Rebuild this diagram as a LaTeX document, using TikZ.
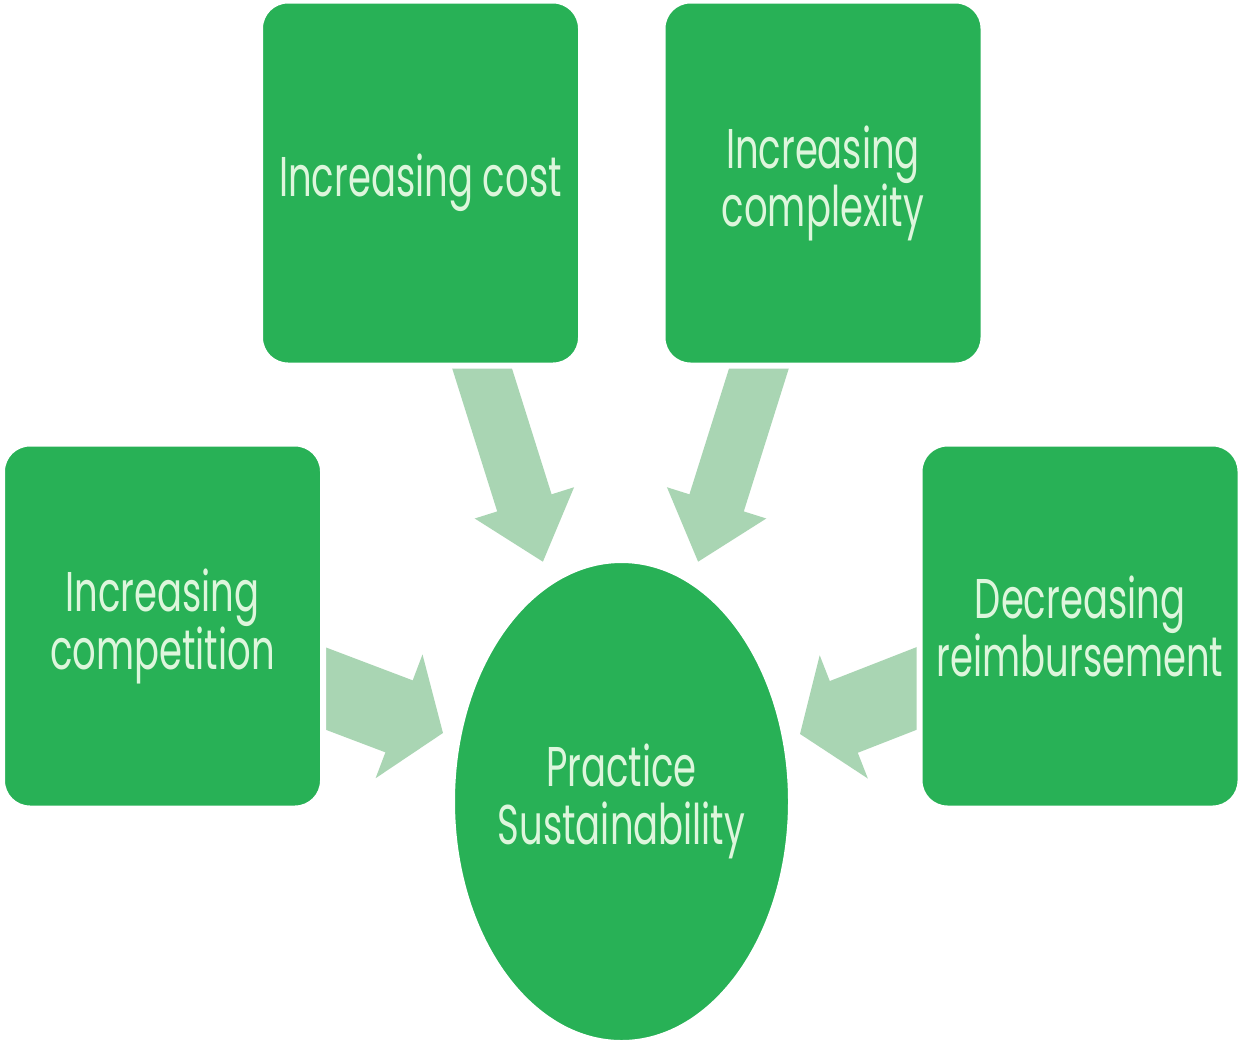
\documentclass[tikz,border=0pt]{standalone}
\usepackage{fontspec}
\setmainfont{Poppins}[FakeStretch=0.66]
\usetikzlibrary{arrows.meta}
\usetikzlibrary{shapes.geometric}
\usetikzlibrary{backgrounds}
\definecolor{boxgreen}{HTML}{28B156}
\definecolor{paletext}{HTML}{DDF6DC}
\definecolor{arrowgreen}{HTML}{A9D5B3}

\begin{document}
\begin{tikzpicture}[x=1pt,y=-1pt,
  factor/.style={draw=white, line width=6pt, fill=boxgreen, rounded corners=28pt,
    minimum width=321pt, minimum height=365pt, inner sep=0pt, align=center,
    text=paletext, font=\fontsize{56}{58}\selectfont},
  goal/.style={factor, ellipse, inner xsep=-40pt, minimum width=339pt, minimum height=483pt},
  push/.style={draw=arrowgreen, line width=57pt, -{Triangle[length=62pt,width=100pt]}},
  pushside/.style={draw=arrowgreen, line width=77pt, -{Triangle[length=47pt,width=130pt]}}]
\useasboundingbox (0,0) rectangle (1241,1042);

\node[factor] (cost) at (420.5,183) {Increasing cost};
\node[factor] (complexity) at (823,183) {Increasing\\complexity};
\node[factor] (competition) at (162.5,626) {Increasing\\competition};
\node[factor] (reimburse) at (1080,626) {Decreasing\\reimbursement};
\node[goal] (practice) at (621.5,801.5) {Practice\\Sustainability};

% arrow ends, the tails start under the boxes
\coordinate (cost-from) at (470,330);
\coordinate (cost-to) at (543,562);
\coordinate (complexity-from) at (771,330);
\coordinate (complexity-to) at (698,562);
\coordinate (competition-from) at (290,675);
\coordinate (competition-to) at (443,733);
\coordinate (reimburse-from) at (951,675);
\coordinate (reimburse-to) at (800,734);

\begin{scope}[on background layer]
\fill[white] (0,0) rectangle (1241,1042);
\draw[push] (cost-from) -- (cost-to);
\draw[push] (complexity-from) -- (complexity-to);
\draw[pushside] (competition-from) -- (competition-to);
\draw[pushside] (reimburse-from) -- (reimburse-to);
\end{scope}

\end{tikzpicture}
\end{document}
